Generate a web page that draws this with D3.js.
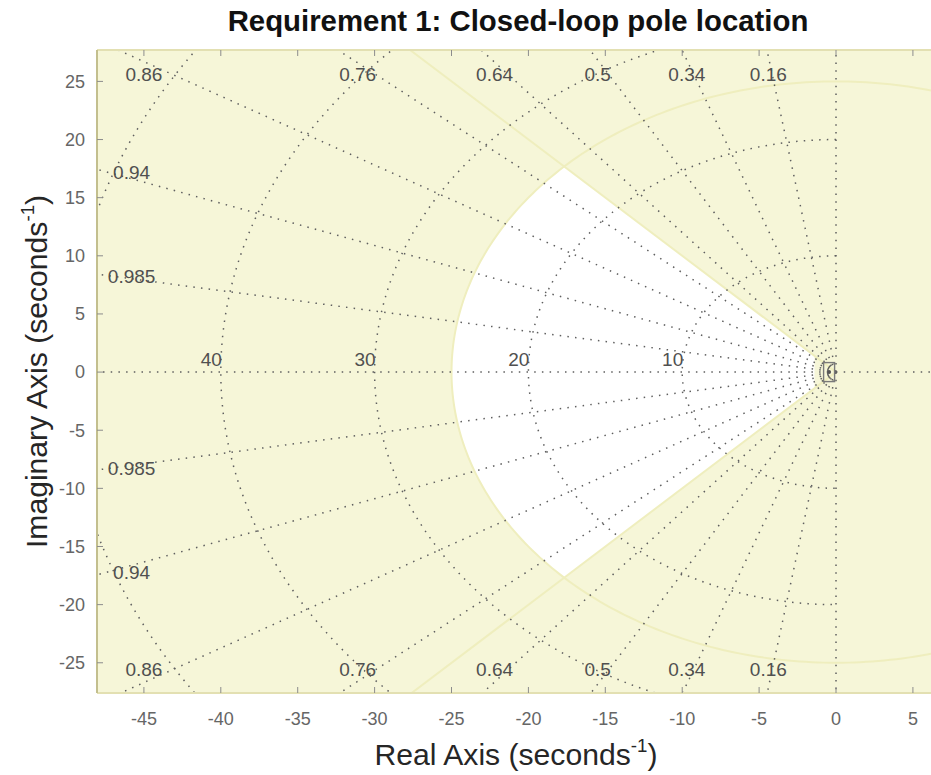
<!DOCTYPE html>
<html><head><meta charset="utf-8">
<script src="https://cdn.jsdelivr.net/npm/d3@7"></script>
<style>body{margin:0;background:#fff;} svg{display:block;font-family:"Liberation Sans",Arial,Helvetica,sans-serif;}</style>
</head><body><svg id="c" width="931" height="775"></svg>
<script>
// ---- data ----
const xTicks = [-45,-40,-35,-30,-25,-20,-15,-10,-5,0,5];
const yTicks = [-25,-20,-15,-10,-5,0,5,10,15,20,25];
const dampingValues = [0.16,0.34,0.5,0.64,0.76,0.86,0.94,0.985];
const freqValues = [10,20,30,40,50];
const freqLabels = [10,20,30,40];
const topLabels = ["0.86","0.76","0.64","0.5","0.34","0.16"];
const topLabelX = [-45.0,-31.1,-22.2,-15.5,-9.7,-4.4];
const topLabelY = 25.6;
const sideLabels = ["0.94","0.985"];
const sideLabelX = -45.8;
const sideLabelY = [17.2, 8.25];
const reqDamping = 0.707, reqWn = 25, reqSigma = -1.4;
const markerRe = -0.45;
const xDomain = [-48.05, 7.0], yDomain = [-27.6, 27.7];
const titleText = "Requirement 1: Closed-loop pole location";

// ---- layout ----
const svg = d3.select("#c");
const pLeft = 97, pTop = 50, pBottom = 693;
const x = d3.scaleLinear().domain(xDomain).range([pLeft, pLeft + (xDomain[1]-xDomain[0])*15.38]);
const y = d3.scaleLinear().domain(yDomain).range([pBottom, pTop]);
const W = x.range()[1]-pLeft, H = pBottom-pTop;

svg.append("defs").append("clipPath").attr("id","clip").append("rect")
  .attr("x",pLeft).attr("y",pTop).attr("width",W).attr("height",H);

const g = svg.append("g").attr("clip-path","url(#clip)");
g.append("rect").attr("x",pLeft).attr("y",pTop).attr("width",W).attr("height",H).attr("fill","#F6F6D8");

const line = d3.line().x(d=>x(d[0])).y(d=>y(d[1]));
const arcPts = (r,a0,a1,n=240)=>d3.range(n+1).map(i=>{const a=a0+(a1-a0)*i/n;return [r*Math.cos(a), r*Math.sin(a)];});

// white feasible region
const th = Math.acos(reqDamping);
const region = [[reqSigma, -reqSigma*Math.tan(th)]]
  .concat(arcPts(reqWn, Math.PI-th, Math.PI+th))
  .concat([[reqSigma, reqSigma*Math.tan(th)]]);
g.append("path").attr("d", line(region)+"Z").attr("fill","#ffffff");

// faint requirement boundary lines
const faintStroke = "#EFEEBE", faintWidth = 2;
g.append("path").attr("d", line(arcPts(reqWn,0,2*Math.PI,400))).attr("fill","none")
  .attr("stroke",faintStroke).attr("stroke-width",faintWidth);
[1,-1].forEach(s=>{
  g.append("path").attr("d", line([[0,0],[-200*Math.cos(th), s*200*Math.sin(th)]]))
    .attr("fill","none").attr("stroke",faintStroke).attr("stroke-width",faintWidth);
});

// grid (dotted)
const gridStyle = sel=>sel.attr("fill","none").attr("stroke","#5f5f5f").attr("stroke-width",1.5).attr("stroke-dasharray","1.5 6.2");
dampingValues.forEach(z=>{
  const a = Math.acos(z);
  [1,-1].forEach(s=>{
    g.append("path").attr("d", line([[0,0],[-200*Math.cos(a), s*200*Math.sin(a)]])).call(gridStyle);
  });
});
g.append("path").attr("d", line([[0,0],[xDomain[0],0]])).call(gridStyle);
g.append("path").attr("d", line([[0,0],[xDomain[1],0]])).call(gridStyle);
g.append("path").attr("d", line([[0,0],[0,yDomain[1]]])).call(gridStyle);
g.append("path").attr("d", line([[0,0],[0,yDomain[0]]])).call(gridStyle);
freqValues.forEach(w=>{
  g.append("path").attr("d", line(arcPts(w, Math.PI/2, 3*Math.PI/2))).call(gridStyle);
});

// pole marker
g.append("rect").attr("x", x(markerRe)-5.5).attr("y", y(0)-9.5).attr("width",11).attr("height",19)
  .attr("fill","none").attr("stroke","#7a7a7a").attr("stroke-width",1.4);
g.append("circle").attr("cx", x(markerRe)).attr("cy", y(0)).attr("r",2).attr("fill","#555");

// grid labels
const lab = g.append("g").attr("font-size",19).attr("fill","#505050");
freqLabels.forEach(w=>{
  lab.append("text").attr("x", x(-w)+1).attr("y", y(0)-6).attr("text-anchor","end").text(w);
});
topLabels.forEach((t,i)=>{
  [1,-1].forEach(s=>{
    lab.append("text").attr("x", x(topLabelX[i])).attr("y", y(s*topLabelY)).attr("dy","0.35em")
      .attr("text-anchor","middle").text(t);
  });
});
sideLabels.forEach((t,i)=>{
  [1,-1].forEach(s=>{
    lab.append("text").attr("x", x(sideLabelX)).attr("y", y(s*sideLabelY[i])).attr("dy","0.35em")
      .attr("text-anchor","middle").text(t);
  });
});

// axes box and ticks
const ax = svg.append("g");
ax.append("line").attr("x1",pLeft).attr("x2",pLeft+W).attr("y1",pTop).attr("y2",pTop).attr("stroke","#E3E0B2").attr("stroke-width",2);
ax.append("line").attr("x1",pLeft).attr("x2",pLeft+W).attr("y1",pBottom).attr("y2",pBottom).attr("stroke","#E3E0B2").attr("stroke-width",2);
ax.append("line").attr("x1",pLeft).attr("x2",pLeft).attr("y1",pTop).attr("y2",pBottom).attr("stroke","#C3BF8E").attr("stroke-width",2);

xTicks.forEach(t=>{
  ax.append("line").attr("x1",x(t)).attr("x2",x(t)).attr("y1",pBottom).attr("y2",pBottom-6).attr("stroke","#8c8c8c").attr("stroke-width",1);
  ax.append("line").attr("x1",x(t)).attr("x2",x(t)).attr("y1",pTop).attr("y2",pTop+6).attr("stroke","#8c8c8c").attr("stroke-width",1);
  ax.append("text").attr("x",x(t)).attr("y",pBottom+32).attr("text-anchor","middle")
    .attr("font-size",18).attr("fill","#666").text(t);
});
yTicks.forEach(t=>{
  ax.append("line").attr("x1",pLeft).attr("x2",pLeft+6).attr("y1",y(t)).attr("y2",y(t)).attr("stroke","#8c8c8c").attr("stroke-width",1);
  ax.append("text").attr("x",pLeft-12).attr("y",y(t)).attr("dy","0.35em").attr("text-anchor","end")
    .attr("font-size",18).attr("fill","#666").text(t);
});

// titles (font size fitted to target widths)
const title = svg.append("text").attr("x",518).attr("y",31).attr("text-anchor","middle")
  .attr("font-size",24).attr("font-weight","bold").attr("fill","#111").text(titleText);
const tw = title.node().getComputedTextLength();
title.attr("font-size", 24*581/tw);

function axisLabel(sel, txt, fs){
  sel.attr("font-size",fs);
  sel.append("tspan").text(txt);
  sel.append("tspan").attr("font-size",fs*0.62).attr("dy",-fs*0.42).text("-1");
  sel.append("tspan").attr("dy",fs*0.42).text(")");
}
const xl = svg.append("text").attr("x",516).attr("y",765).attr("text-anchor","middle").attr("fill","#262626");
axisLabel(xl, "Real Axis (seconds", 24);
const xw = xl.node().getComputedTextLength();
const labFs = 24*283/xw;
xl.selectAll("tspan").remove();
axisLabel(xl, "Real Axis (seconds", labFs);

const yl = svg.append("text").attr("transform",`translate(47,${(pTop+pBottom)/2}) rotate(-90)`).attr("text-anchor","middle").attr("fill","#262626");
axisLabel(yl, "Imaginary Axis (seconds", labFs);
</script></body></html>
